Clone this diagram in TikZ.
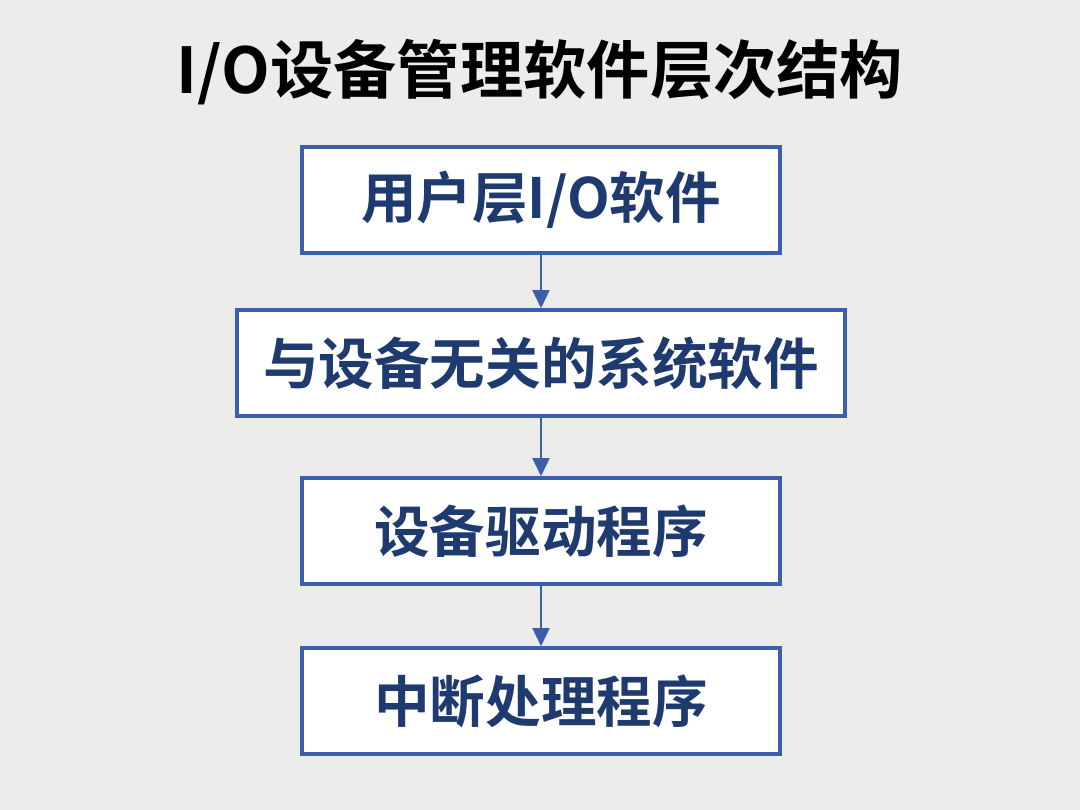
\documentclass[tikz,border=0pt]{standalone}
\usepackage{fontspec}
\newfontfamily\cjk{Noto Sans CJK SC}[BoldFont={Noto Sans CJK SC Bold}]
\usetikzlibrary{arrows.meta}
\definecolor{bg}{HTML}{ECECEB}
\definecolor{navy}{HTML}{1E3A6E}
\definecolor{bblue}{HTML}{3B5FAA}
\tikzset{
 layer/.style={draw=bblue,line width=2.4pt,fill=white,text=navy,font=\cjk\bfseries\fontsize{39.5}{42}\selectfont,minimum height=2.65cm,inner sep=0pt},
 conn/.style={draw=bblue,line width=1.8pt,-{Triangle[length=13pt,width=12pt]}}
}
\begin{document}
\begin{tikzpicture}[x=0.025cm,y=-0.025cm]
\fill[bg] (0,0) rectangle (1080,810);
\useasboundingbox (0,0) rectangle (1080,810);
\node (title) at (540,72) {\cjk\bfseries\fontsize{45}{48}\selectfont I/O设备管理软件层次结构};
\node[layer,minimum width=11.95cm] (a) at (541,200) {用户层I/O软件};
\node[layer,minimum width=15.2cm] (b) at (541,363) {与设备无关的系统软件};
\node[layer,minimum width=11.95cm] (c) at (541,531) {设备驱动程序};
\node[layer,minimum width=11.95cm] (d) at (541,701) {中断处理程序};
\draw[conn] (a) -- (b);
\draw[conn] (b) -- (c);
\draw[conn] (c) -- (d);
\end{tikzpicture}
\end{document}
